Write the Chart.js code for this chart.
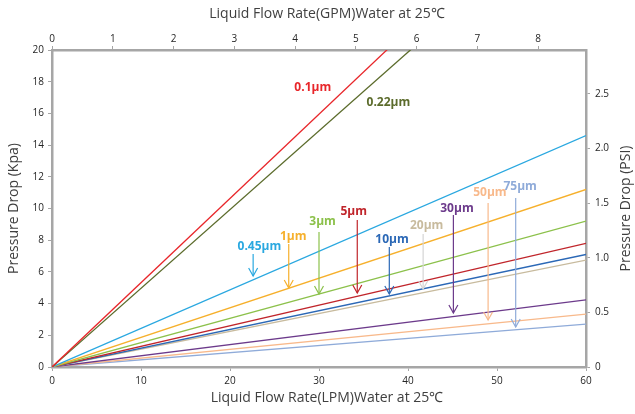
<!DOCTYPE html>
<html><head><meta charset="utf-8">
<script src="https://cdn.jsdelivr.net/npm/chart.js@4"></script>
<style>html,body{margin:0;padding:0;background:#fff}#wrap{width:635px;height:414px}</style>
</head><body><div id="wrap"><canvas id="c" width="635" height="414"></canvas></div>
<script>
// Data (kPa at 60 LPM; lines pass through origin)
const seriesNames = ['0.1µm','0.22µm','0.45µm','1µm','3µm','5µm','10µm','20µm','30µm','50µm','75µm'];
const flowLPM = [0, 60];
const endKpa = [31.9, 29.8, 14.6, 11.2, 9.2, 7.8, 7.1, 6.75, 4.23, 3.34, 2.71];
const colors = ['#e8262a','#5b6b2b','#2aa8e0','#f6b02c','#8cc14b','#c0252b','#2b68b6','#c8bb9e','#6c3a8b','#f8b98b','#8fabd9'];
const leftTicks = [0,2,4,6,8,10,12,14,16,18,20];
const bottomTicks = [0,10,20,30,40,50,60];
const topTicks = [0,1,2,3,4,5,6,7,8];
const rightTicks = [0,0.5,1,1.5,2,2.5];
// Annotation labels (data coords): label x,y ; arrow x, top y, tip y (null = no arrow)
const labelX   = [29.3, 37.8, 23.3, 27.1, 30.4, 33.9, 38.2, 42.1, 45.5, 49.2, 52.6];
const labelY   = [17.6, 16.66, 7.57, 8.26, 9.15, 9.78, 8.01, 8.9, 9.97, 10.98, 11.36];
const arrowX   = [null, null, 22.6, 26.6, 30.0, 34.3, 37.9, 41.7, 45.1, 49.0, 52.1];
const arrowTop = [null, null, 7.13, 7.76, 8.52, 9.27, 7.57, 8.39, 9.59, 10.35, 10.66];
const arrowTip = [null, null, 5.74, 4.98, 4.61, 4.67, 4.61, 4.92, 3.41, 2.97, 2.52];
const arrowColors = ['#e8262a','#5b6b2b','#2aa8e0','#f6b02c','#8cc14b','#c0252b','#2b68b6','#d4d4d4','#6c3a8b','#f8b98b','#8fabd9'];
const titleTop = 'Liquid Flow Rate(GPM)Water at 25℃';
const titleBottom = 'Liquid Flow Rate(LPM)Water at 25℃';
const titleLeft = 'Pressure Drop (Kpa)';
const titleRight = 'Pressure Drop (PSI)';

const FONT = '"Open Sans", sans-serif';
const AX = '#a6a6a6';
const TXT = '#404040';

const datasets = seriesNames.map((n,i)=>({
  label:n,
  data: flowLPM.map(x=>({x:x, y: endKpa[i]*x/60})),
  borderColor: colors[i], backgroundColor: colors[i],
  borderWidth: 1.3, pointRadius: 0, tension: 0, xAxisID:'x', yAxisID:'y'
}));

const annot = {
  id:'annot',
  afterDatasetsDraw(chart){
    const {ctx, scales:{x,y}, chartArea:ca} = chart;
    ctx.save();
    ctx.textAlign='center'; ctx.textBaseline='middle';
    ctx.font = 'bold 12px '+FONT;
    seriesNames.forEach((n,i)=>{
      ctx.fillStyle = colors[i];
      ctx.fillText(n, x.getPixelForValue(labelX[i]), y.getPixelForValue(labelY[i]));
      if (arrowX[i]!==null){
        const ax = x.getPixelForValue(arrowX[i]);
        const t = y.getPixelForValue(arrowTop[i]);
        const b = y.getPixelForValue(arrowTip[i]);
        ctx.strokeStyle = arrowColors[i]; ctx.lineWidth = 1.2;
        ctx.beginPath(); ctx.moveTo(ax,t); ctx.lineTo(ax,b); ctx.stroke();
        ctx.beginPath(); ctx.moveTo(ax-4.5,b-8); ctx.lineTo(ax,b); ctx.lineTo(ax+4.5,b-8); ctx.stroke();
      }
    });
    // axis titles
    ctx.fillStyle=TXT; ctx.font='14px '+FONT;
    const cx = (ca.left+ca.right)/2 + 8;
    const cy = (ca.top+ca.bottom)/2;
    ctx.fillText(titleTop, cx, 14);
    ctx.fillText(titleBottom, cx, 398);
    [[14,titleLeft],[626,titleRight]].forEach(([px,t])=>{
      ctx.save(); ctx.translate(px, cy); ctx.rotate(-Math.PI/2);
      ctx.fillText(t,0,0); ctx.restore();
    });
    ctx.restore();
  }
};

function tickSet(vals){ return function(scale){ scale.ticks = vals.map(v=>({value:v})); }; }
const tickFont = {family:FONT,size:10};
const TK = '#262626';

new Chart(document.getElementById('c'), {
  type:'line',
  data:{datasets},
  plugins:[annot],
  options:{
    responsive:false, animation:false,
    layout:{padding:0},
    plugins:{legend:{display:false}, tooltip:{enabled:false}},
    scales:{
      x:{type:'linear', position:'bottom', min:0, max:60,
        afterBuildTicks: tickSet(bottomTicks),
        afterFit(s){ s.height = 47; },
        grid:{drawOnChartArea:false, tickLength:4, color:AX, lineWidth:1},
        border:{color:AX, width:2.5},
        ticks:{color:TK, font:tickFont, padding:4, maxRotation:0}
      },
      x2:{type:'linear', position:'top', min:0, max:8.79,
        afterBuildTicks: tickSet(topTicks),
        afterFit(s){ s.height = 50; },
        grid:{drawOnChartArea:false, tickLength:4, color:AX, lineWidth:1},
        border:{color:AX, width:2.5},
        ticks:{color:TK, font:tickFont, padding:1, maxRotation:0}
      },
      y:{type:'linear', position:'left', min:0, max:20,
        afterBuildTicks: tickSet(leftTicks),
        afterFit(s){ s.width = 52; },
        grid:{drawOnChartArea:false, tickLength:4, color:AX, lineWidth:1},
        border:{color:AX, width:2.5},
        ticks:{color:TK, font:tickFont, padding:4}
      },
      y2:{type:'linear', position:'right', min:0, max:2.9,
        afterBuildTicks: tickSet(rightTicks),
        afterFit(s){ s.width = 49; },
        grid:{drawOnChartArea:false, tickLength:4, color:AX, lineWidth:1},
        border:{color:AX, width:2.5},
        ticks:{color:TK, font:tickFont, padding:5}
      }
    }
  }
});
</script></body></html>
